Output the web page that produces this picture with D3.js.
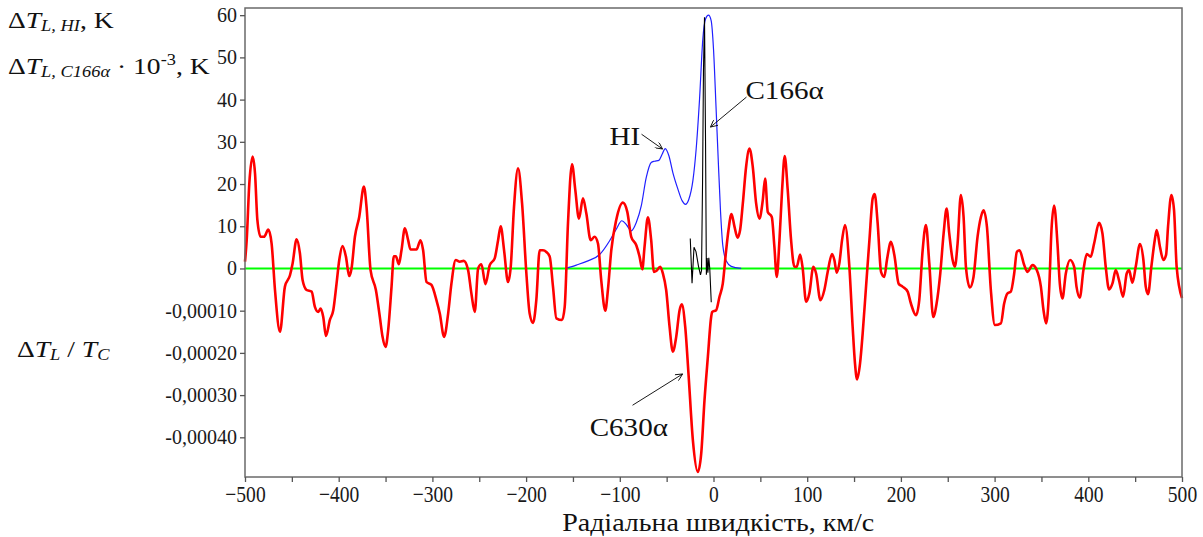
<!DOCTYPE html>
<html>
<head>
<meta charset="utf-8">
<script src="https://cdn.jsdelivr.net/npm/d3@7/dist/d3.min.js"></script>
<style>
  body { margin: 0; background: #fff; }
  svg { display: block; }
  svg text { font-family: "Liberation Serif", "Times New Roman", serif; }
</style>
</head>
<body>
<svg></svg>
<script>
// velocity axis, km/s
var velocityTicks = [-500, -400, -300, -200, -100, 0, 100, 200, 300, 400, 500];
var velocityMinor = [-450, -350, -250, -150, -50, 50, 150, 250, 350, 450];
// upper left axis, K
var kelvinTicks = [0, 10, 20, 30, 40, 50, 60];
// lower left axis, dT/Tc (in units of 1e-4)
var ratioTicks = [-1, -2, -3, -4];
var ratioTickLabels = ["-0,00010", "-0,00020", "-0,00030", "-0,00040"];

// C630a : dT_L / T_C  (x 1e-4)
var redVelocity = [-500,-498.2,-495.4,-491.8,-489.3,-486.8,-483.3,-479.7,-475.1,-471.6,-468,-462.7,-457.4,-452,-449.2,-444.9,-441.4,-438.5,-434.3,-428.9,-425.4,-421.8,-419.3,-416.5,-413.6,-409.4,-405.8,-402.3,-399.4,-395.9,-392.3,-388.8,-386.3,-382.7,-378.1,-373.1,-370.3,-366,-360.3,-356.1,-353.2,-350,-347.2,-343.6,-341.2,-339,-335.8,-333,-329.4,-325.9,-323.4,-317,-312.7,-309.9,-306.3,-301,-295.7,-292.1,-287.5,-283.2,-279.7,-275.1,-270.8,-266.5,-261.9,-258.4,-254.8,
  -251.2,-247.7,-243.4,-238.8,-233.5,-229.9,-227.1,-223.5,-219.3,-216.4,-212.9,-208.6,-204.3,-199.7,-196.2,-192.6,-189.1,-185.5,-182,-178.4,-174.8,-171.3,-167.7,-161.7,-158.8,-155.3,-151,-147.5,-143.6,-139.3,-135.7,-131.1,-126.9,-123.3,-119.8,-115.5,-112.7,-109.1,-103.8,-96.7,-92,-87.8,-82.4,-78.9,-76,-73.6,-70,-66.5,-63.6,-61.1,-56.9,-54,-50.5,-46.9,-43.4,-39.8,-36.2,-33.8,-30.2,-26.7,-22,-16.7,-13.1,-9.6,-6,-2.5,
  -1.4,2.8,6.4,9.9,13.5,16,19.2,22.4,25.6,28.4,31.3,34.8,38.4,41.9,45.5,49,52.6,55.1,57.9,62.2,65,67.5,70.4,73.2,76,79.2,82.8,86.4,88.8,92.4,95.2,98.8,102.3,106.6,109.5,114.1,118.3,121.9,126.5,129,131.5,134.3,137.2,140.4,145,148.5,151,153.2,156.4,159.2,162.8,166.4,169.9,172,175.2,178.8,182.3,185.1,189.4,193,197.6,201.8,207.2,210.7,216.1,219.6,223.2,226.7,230.3,234.5,238.1,242,245.6,248.8,
  251.6,255.2,257.6,260.5,264,266.9,269.4,273.6,277.5,281.8,285.4,288.2,291.8,296,300.3,306.7,310.2,313.8,317.3,320.9,323.7,326.6,331.6,335.1,340.5,345.1,349.4,352.2,355,358.2,360.7,363.5,367.1,369.6,372.4,376,380.6,384.9,387.4,390.9,394.8,398.4,402.6,406.2,411.5,415.1,418.6,422.2,425.7,429.3,432.8,437.1,441,443.5,447.1,450.6,455.2,458.8,461.3,463.8,467.3,470.9,473,476.5,480.1,483,485.1,488.7,491.5,494.3,500];
var redValues = [0.16,0.67,2.01,2.65,2.25,1.15,0.75,0.75,0.92,0.59,-0.51,-1.5,-0.43,-0.16,0.12,0.69,0.36,-0.28,-0.51,-0.55,-0.91,-1.03,-0.95,-1.15,-1.6,-1.22,-0.99,-0.36,0.2,0.53,0.28,-0.18,0,0.75,1.22,1.94,1.46,-0.04,-0.51,-1.15,-1.62,-1.86,-1.46,-0.43,0.29,0.29,0.1,0.43,0.95,0.67,0.45,0.45,0.67,0.43,-0.32,-0.39,-0.75,-1.07,-1.62,-1.07,-0.36,0.2,0.16,0.18,-0.04,-0.59,-1.03,
  0,0.1,-0.37,0.08,0.24,0.67,1,0.43,-0.32,0.04,1.46,2.37,1.54,-0.12,-1.07,-1.29,-0.75,0.43,0.43,0.39,0.28,-0.43,-1.18,-1.22,-0.91,1.07,2.47,1.86,1.18,1.66,1.3,0.67,0.75,0.59,-0.28,-1,-0.51,0.43,1.15,1.56,1.34,0.75,0.55,0.28,-0.02,0.51,1.21,0.67,-0.08,-0.06,0.04,-0.12,-0.51,-1.38,-1.97,-1.62,-0.99,-0.85,-1.38,-2.49,-4.07,-4.82,-4.38,-3.12,-2.09,-1.15,
  -1.03,-0.99,-0.67,-0.36,0.43,0.91,1.29,0.99,0.73,0.91,1.54,2.41,2.84,2.41,1.54,1.18,1.62,2.13,1.34,1.22,0.51,-0.2,0.67,1.86,2.66,1.86,0.67,0.04,0.04,0.33,0,-0.79,-0.59,0.04,-0.12,-0.75,-0.51,-0.08,0.34,0.2,-0.1,0.12,0.67,1.03,0.04,-1.38,-2.25,-2.63,-2.25,-1.54,-0.43,0.67,1.66,1.76,1.07,-0.08,-0.2,0.2,0.63,0.32,-0.36,-0.43,-0.55,-0.83,-1.11,-0.75,0.43,1.03,0.12,-1.15,-0.83,-0.12,0.83,1.42,
  0.83,0.2,0.04,0.59,1.74,1.22,0.04,-0.45,-0.2,0.75,1.22,1.38,0.99,-0.51,-1.34,-1.3,-0.83,-0.59,-0.55,-0.12,0.39,0.43,0.08,-0.08,0.08,-0.04,-0.43,-0.99,-1.3,-0.51,0.91,1.49,0.59,-0.36,-0.71,-0.12,0.2,0.04,-0.43,-0.69,-0.04,0.34,0.28,0.59,1.08,0.83,0.04,-0.5,-0.36,-0.04,-0.28,-0.67,-0.12,-0.04,-0.34,0.04,0.58,0.2,-0.43,-0.61,0.04,0.67,0.91,0.51,0.2,0.32,0.99,1.74,1.38,0.04,-0.7];

// HI, K
var hiVelocity = [-157.8,-146.4,-134,-121.5,-111,-103.8,-97.8,-92.7,-87.8,-82.4,-77.1,-71.8,-66.5,-62.9,-58.3,-54.7,-51.5,-47.6,-43.4,-38,-33.4,-29.9,-26.3,-22,-18.5,-14.9,-11.4,-8.5,-5.3,-2.5,0,2.8,5,7.5,9.9,13.5,18.9,29.5];
var hiValues = [0,0.8,1.8,3.3,6.5,9.3,11.3,10.3,8.9,10.9,14.8,21.5,25.1,25.4,25.6,27.1,28.4,26.7,22.7,18.8,16,15.2,16.4,20.8,28.3,40.1,54.3,59.1,60,58.7,52,37.7,26,13.5,5.5,1.8,0.5,0];

// C166a, K x 1e-3
var c166Velocity = [-24.8,-22.9,-20.8,-18.7,-16,-13.9,-12.8,-11.7,-10.7,-9.6,-8.5,-7.6,-6.8,-6,-5,-4,-3,-2.4];
var c166Values = [7.1,-3.5,5,4,0.5,-1.5,-0.5,20,47,59.5,30,-1.5,2.5,-1,2.5,0,-5,-8];

var serif = '"Liberation Serif", "Times New Roman", serif';

var drawChart = function() {
  var screen = { width: 1203, height: 537 };
  var plot = { left: 245, right: 1182, top: 8, bottom: 477 };

  var svg = d3.select("svg")
    .attr("width", screen.width)
    .attr("height", screen.height);

  var xScale = d3.scaleLinear().domain([-500, 500]).range([plot.left, plot.right]);
  var yK = d3.scaleLinear().domain([-49.4, 61.7]).range([plot.bottom, plot.top]);
  var yRatio = d3.scaleLinear().domain([-4.94, 6.17]).range([plot.bottom, plot.top]);

  // zero line
  svg.append("line")
    .attr("x1", plot.left).attr("x2", plot.right)
    .attr("y1", yK(0)).attr("y2", yK(0))
    .attr("stroke", "#00ff00").attr("stroke-width", 2);

  var redLine = d3.line()
    .x(function(d) { return xScale(d[0]); })
    .y(function(d) { return yRatio(d[1]); })
    .curve(d3.curveMonotoneX);
  var kLine = d3.line()
    .x(function(d) { return xScale(d[0]); })
    .y(function(d) { return yK(d[1]); });

  svg.append("path")
    .datum(d3.zip(hiVelocity, hiValues))
    .attr("d", kLine.curve(d3.curveMonotoneX))
    .attr("fill", "none").attr("stroke", "#2020ff").attr("stroke-width", 1.2);

  svg.append("path")
    .datum(d3.zip(redVelocity, redValues))
    .attr("d", redLine)
    .attr("fill", "none").attr("stroke", "#ff0000").attr("stroke-width", 2.6)
    .attr("stroke-linejoin", "round");

  svg.append("path")
    .datum(d3.zip(c166Velocity, c166Values))
    .attr("d", kLine.curve(d3.curveLinear))
    .attr("fill", "none").attr("stroke", "#000").attr("stroke-width", 1.1);

  // frame
  svg.append("rect")
    .attr("x", plot.left).attr("y", plot.top)
    .attr("width", plot.right - plot.left).attr("height", plot.bottom - plot.top)
    .attr("fill", "none").attr("stroke", "#6a6a6a").attr("stroke-width", 1.5);

  // axes
  var styleAxis = function(g) {
    g.attr("font-family", null);
    g.select(".domain").remove();
    g.selectAll(".tick line").attr("stroke", "#555").attr("stroke-width", 1.3);
    g.selectAll(".tick text").attr("fill", "#1a1a1a")
      .style("font-size", "20px")
      .style("font-family", serif);
  };

  svg.append("g")
    .attr("transform", "translate(" + plot.left + ",0)")
    .call(d3.axisLeft(yK).tickValues(kelvinTicks).tickSize(5).tickPadding(3))
    .call(styleAxis);

  svg.append("g")
    .attr("transform", "translate(" + plot.left + ",0)")
    .call(d3.axisLeft(yRatio).tickValues(ratioTicks).tickSize(5).tickPadding(3)
      .tickFormat(function(d, i) { return ratioTickLabels[i]; }))
    .call(styleAxis);

  var xAxisG = svg.append("g")
    .attr("transform", "translate(0," + plot.bottom + ")")
    .call(d3.axisBottom(xScale).tickValues(velocityTicks).tickSize(5).tickPadding(4))
    .call(styleAxis);
  // the velocity labels are taller and narrower in the original
  xAxisG.selectAll(".tick text")
    .style("font-size", "23px")
    .attr("transform", "scale(0.85,1)");

  svg.append("g")
    .attr("transform", "translate(0," + plot.bottom + ")")
    .call(d3.axisBottom(xScale).tickValues(velocityMinor).tickSize(5).tickFormat(""))
    .call(styleAxis);

  // text helper: parts = [text, italic, size, dy]
  var addText = function(x, y, sx, parts) {
    var t = svg.append("text")
      .attr("transform", "translate(" + x + "," + y + ") scale(" + sx + ",1)")
      .attr("fill", "#111")
      .style("font-family", serif);
    parts.forEach(function(p) {
      t.append("tspan")
        .style("font-style", p[1] ? "italic" : "normal")
        .style("font-size", p[2] + "px")
        .attr("dy", p[3])
        .text(p[0]);
    });
    return t;
  };

  addText(8, 28, 1.15, [["Δ", 0, 24, 0], ["T", 1, 24, 0], ["L, HI", 1, 16, 3], [", K", 0, 24, -3]]);
  addText(8, 74, 1.15, [["Δ", 0, 24, 0], ["T", 1, 24, 0], ["L, C166α", 1, 16, 3], [" · 10", 0, 24, -3],
    ["-3", 0, 16, -9], [", K", 0, 24, 9]]);
  addText(17, 357, 1.15, [["Δ", 0, 24, 0], ["T", 1, 24, 0], ["L", 1, 16, 3], [" / ", 0, 24, -3],
    ["T", 1, 24, 0], ["C", 1, 16, 3]]);

  svg.append("text")
    .attr("transform", "translate(" + xScale(5) + ",531) scale(1.12,1)")
    .attr("text-anchor", "middle")
    .style("font-size", "25px")
    .style("font-family", serif)
    .attr("fill", "#111")
    .text("Радіальна швидкість, км/с");

  // annotations
  svg.append("defs").append("marker")
    .attr("id", "arr")
    .attr("viewBox", "0 0 10 10")
    .attr("refX", 10).attr("refY", 5)
    .attr("markerWidth", 9).attr("markerHeight", 7)
    .attr("markerUnits", "userSpaceOnUse")
    .attr("orient", "auto")
    .append("path")
    .attr("d", "M0,0 L10,5 L0,10")
    .attr("fill", "none").attr("stroke", "#000").attr("stroke-width", 1.2);

  var notes = [
    { label: "HI", v: -110.9, k: 29.2, from: [-76.8, 31.8], to: [-54.4, 28.3] },
    { label: "C166α", v: 34.1, k: 40.1, from: [35.2, 40.6], to: [-3.2, 33.5] },
    { label: "C630α", v: -132.2, k: -39.7, from: [-86.4, -32.4], to: [-33, -25] }
  ];
  notes.forEach(function(n) {
    svg.append("line")
      .attr("x1", xScale(n.from[0])).attr("y1", yK(n.from[1]))
      .attr("x2", xScale(n.to[0])).attr("y2", yK(n.to[1]))
      .attr("stroke", "#000").attr("stroke-width", 0.9)
      .attr("marker-end", "url(#arr)");
    svg.append("text")
      .attr("transform", "translate(" + xScale(n.v) + "," + yK(n.k) + ") scale(1.12,1)")
      .style("font-size", "26px")
      .style("font-family", serif)
      .attr("fill", "#111")
      .text(n.label);
  });
};

drawChart();
</script>
</body>
</html>
